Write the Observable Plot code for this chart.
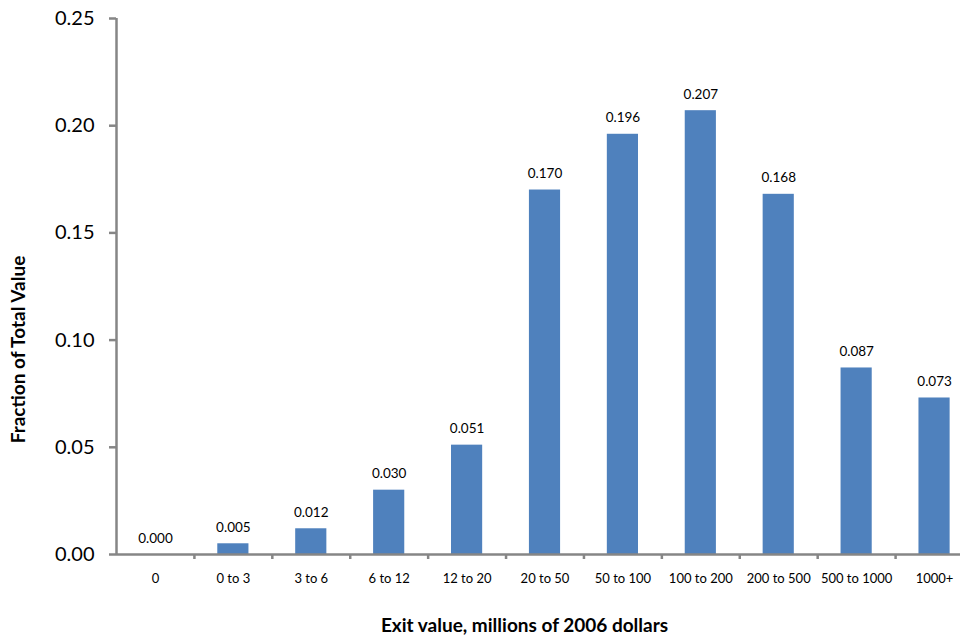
<!DOCTYPE html>
<html>
<head>
<meta charset="utf-8">
<script src="https://cdn.jsdelivr.net/npm/d3@7"></script>
<script src="https://cdn.jsdelivr.net/npm/@observablehq/plot@0.6"></script>
<style>
  html, body { margin: 0; padding: 0; background: #fff; }
  #chart { width: 960px; height: 640px; }
</style>
</head>
<body>
<div id="chart"></div>
<script>
const categories = ["0", "0 to 3", "3 to 6", "6 to 12", "12 to 20", "20 to 50", "50 to 100", "100 to 200", "200 to 500", "500 to 1000", "1000+"];
const values = [0.000, 0.005, 0.012, 0.030, 0.051, 0.170, 0.196, 0.207, 0.168, 0.087, 0.073];
const yTicks = [0, 0.05, 0.10, 0.15, 0.20, 0.25];
const xTitle = "Exit value, millions of 2006 dollars";
const yTitle = "Fraction of Total Value";

const data = categories.map((c, i) => ({cat: c, val: values[i]}));

const xRange = [116, 973];
const step = (xRange[1] - xRange[0]) / categories.length;
const axisColor = "#868686";
const font = "Lato, 'Open Sans', sans-serif";

const chart = Plot.plot({
  width: 960,
  height: 640,
  marginLeft: 116,
  marginRight: 0,
  marginTop: 18,
  marginBottom: 86,
  style: {fontFamily: font, background: "#fff", color: "#000"},
  x: {domain: categories, range: xRange, paddingInner: 0.6, paddingOuter: 0.3, round: false, label: null},
  y: {domain: [0, 0.25], label: null},
  marks: [
    Plot.barY(data, {x: "cat", y: "val", fill: "#4f81bd"}),
    Plot.text(data, {x: "cat", y: "val", text: d => d3.format(".3f")(d.val), lineAnchor: "bottom", dy: -12, fontSize: 13.5, fill: "#000"}),
    Plot.axisY({ticks: yTicks, tickFormat: ".2f", tickSize: 7, tickPadding: 15, fontSize: 20, stroke: axisColor, strokeWidth: 2.5, fill: "#000", label: null}),
    Plot.axisX({tickSize: 5, fill: "none", dx: step / 2, stroke: axisColor, strokeWidth: 2.5, label: null}),
    Plot.axisX({tickSize: 0, tickPadding: 19, fontSize: 13, fill: "#000", label: null}),
    Plot.ruleY([0], {stroke: axisColor, strokeWidth: 2.5}),
    Plot.ruleX([categories[0]], {x: d => d, y1: 0, y2: 0.25, dx: -step / 2, stroke: axisColor, strokeWidth: 2.5}),
    Plot.text([xTitle], {frameAnchor: "bottom", text: d => d, dx: -14, dy: 71, textAnchor: "middle", lineAnchor: "middle", fontSize: 19, fontWeight: "bold", fill: "#000"}),
    Plot.text([yTitle], {frameAnchor: "left", text: d => d, dx: -98, dy: 63, rotate: -90, textAnchor: "middle", lineAnchor: "middle", fontSize: 19, fontWeight: "bold", fill: "#000"})
  ]
});
document.getElementById("chart").appendChild(chart);
</script>
</body>
</html>
